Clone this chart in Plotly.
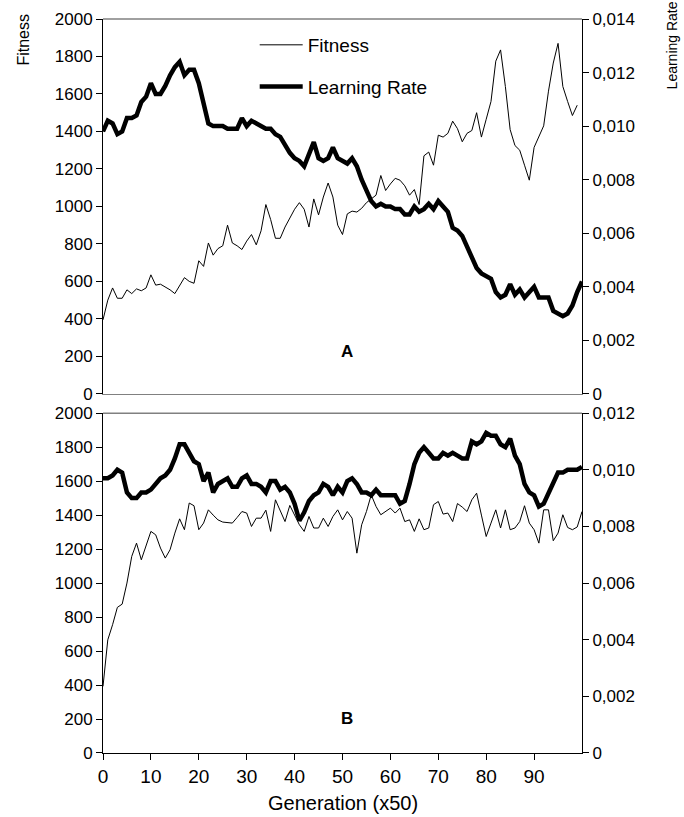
import plotly.graph_objects as go

# ---------------- data ----------------
gen_top_fit = list(range(0, 100))
gen_all = list(range(0, 101))

fitness_A = [395, 500, 565, 510, 510, 555, 535, 560, 550, 565,
             635, 580, 585, 570, 555, 535, 575, 620, 600, 590,
             710, 680, 805, 740, 775, 790, 900, 805, 790, 770,
             815, 850, 795, 870, 1010, 930, 830, 830, 890, 940,
             985, 1020, 985, 890, 1040, 955, 1050, 1125, 1050, 900,
             850, 960, 975, 970, 990, 1020, 1040, 1060, 1165, 1085,
             1120, 1150, 1140, 1110, 1060, 1090, 1010, 1270, 1290, 1220,
             1380, 1370, 1390, 1455, 1415, 1345, 1390, 1405, 1500, 1370,
             1465, 1560, 1775, 1835, 1640, 1410, 1325, 1300, 1220, 1140,
             1315, 1375, 1430, 1615, 1765, 1870, 1640, 1560, 1485, 1540]

lr_A = [0.0098, 0.0102, 0.0101, 0.0097, 0.0098, 0.0103, 0.0103, 0.0104, 0.0109, 0.0111,
        0.0116, 0.0112, 0.0112, 0.0115, 0.0119, 0.0122, 0.0124, 0.0119, 0.0121, 0.0121,
        0.0116, 0.0109, 0.0101, 0.0100, 0.0100, 0.0100, 0.0099, 0.0099, 0.0099, 0.0103,
        0.0100, 0.0102, 0.0101, 0.0100, 0.0099, 0.0099, 0.0097, 0.0096, 0.0093, 0.0090,
        0.0088, 0.0087, 0.0085, 0.0090, 0.0094, 0.0088, 0.0087, 0.0088, 0.0092, 0.0088,
        0.0087, 0.0086, 0.0088, 0.0085, 0.0080, 0.0076, 0.0072, 0.0070, 0.0071, 0.0070,
        0.0070, 0.0069, 0.0069, 0.0067, 0.0067, 0.0070, 0.0068, 0.0069, 0.0071, 0.0069,
        0.0072, 0.0070, 0.0068, 0.0062, 0.0061, 0.0059, 0.0055, 0.0050, 0.0047, 0.0045,
        0.0044, 0.0043, 0.0038, 0.0036, 0.0037, 0.0041, 0.0037, 0.0039, 0.0036, 0.0038,
        0.0040, 0.0036, 0.0036, 0.0036, 0.0031, 0.0030, 0.0029, 0.0030, 0.0033, 0.0038,
        0.0042]

fitness_B = [392, 666, 755, 857, 876, 1000, 1157, 1235, 1137, 1225,
             1304, 1284, 1206, 1147, 1196, 1294, 1378, 1314, 1471, 1455,
             1314, 1353, 1431, 1400, 1372, 1359, 1355, 1353, 1386, 1421,
             1412, 1333, 1382, 1382, 1429, 1304, 1490, 1421, 1362, 1457,
             1400, 1343, 1304, 1392, 1324, 1324, 1382, 1333, 1392, 1431,
             1372, 1421, 1382, 1176, 1343, 1421, 1519, 1451, 1402, 1421,
             1441, 1412, 1441, 1362, 1372, 1304, 1378, 1314, 1324, 1461,
             1480, 1406, 1412, 1362, 1468, 1447, 1421, 1490, 1529, 1400,
             1274, 1353, 1431, 1324, 1431, 1314, 1324, 1362, 1455, 1353,
             1314, 1235, 1431, 1431, 1249, 1294, 1402, 1327, 1314, 1330,
             1421]

lr_B = [0.0097, 0.0097, 0.0098, 0.0100, 0.0099, 0.0092, 0.0090, 0.0090, 0.0092, 0.0092,
        0.0093, 0.0095, 0.0097, 0.0098, 0.0100, 0.0104, 0.0109, 0.0109, 0.0106, 0.0103,
        0.0102, 0.0096, 0.0099, 0.0092, 0.0095, 0.0096, 0.0097, 0.0094, 0.0094, 0.0097,
        0.0098, 0.0095, 0.0095, 0.0094, 0.0092, 0.0096, 0.0096, 0.0093, 0.0094, 0.0092,
        0.0088, 0.0082, 0.0085, 0.0089, 0.0091, 0.0092, 0.0095, 0.0094, 0.0091, 0.0094,
        0.0092, 0.0096, 0.0097, 0.0095, 0.0092, 0.0092, 0.0091, 0.0093, 0.0091, 0.0091,
        0.0091, 0.0091, 0.0088, 0.0089, 0.0095, 0.0102, 0.0106, 0.0108, 0.0106, 0.0104,
        0.0104, 0.0106, 0.0105, 0.0106, 0.0105, 0.0104, 0.0104, 0.0110, 0.0109, 0.0110,
        0.0113, 0.0112, 0.0112, 0.0109, 0.0108, 0.0111, 0.0105, 0.0102, 0.0095, 0.0092,
        0.0091, 0.0087, 0.0088, 0.0092, 0.0096, 0.0099, 0.0099, 0.0100, 0.0100, 0.0100,
        0.0101]

x_ticks = [0, 10, 20, 30, 40, 50, 60, 70, 80, 90]
fit_ticks = [0, 200, 400, 600, 800, 1000, 1200, 1400, 1600, 1800, 2000]
lr_ticks_A = [0, 0.002, 0.004, 0.006, 0.008, 0.010, 0.012, 0.014]
lr_ticks_B = [0, 0.002, 0.004, 0.006, 0.008, 0.010, 0.012]


def comma(v):
    return "0" if v == 0 else f"{v:.3f}".replace(".", ",")


FONT = "Liberation Sans, Arial, sans-serif"

fig = go.Figure()
fig.add_trace(go.Scatter(x=gen_top_fit, y=fitness_A, mode="lines", name="Fitness",
                         line=dict(color="black", width=1), xaxis="x2", yaxis="y",
                         legendgroup="f"))
fig.add_trace(go.Scatter(x=gen_all, y=lr_A, mode="lines", name="Learning Rate",
                         line=dict(color="black", width=4.5), xaxis="x2", yaxis="y2",
                         legendgroup="l"))
fig.add_trace(go.Scatter(x=gen_all, y=fitness_B, mode="lines", showlegend=False,
                         line=dict(color="black", width=1), xaxis="x", yaxis="y3"))
fig.add_trace(go.Scatter(x=gen_all, y=lr_B, mode="lines", showlegend=False,
                         line=dict(color="black", width=4.5), xaxis="x", yaxis="y4"))

H_PLOT = 753.3 - 19
top_dom = [(753.3 - 394) / H_PLOT, 1]
bot_dom = [0, (753.3 - 413.3) / H_PLOT]

yfit = dict(range=[0, 2000], tickvals=fit_ticks, showline=True, linecolor="black",
            linewidth=1, ticks="outside", ticklen=6, tickcolor="black",
            showgrid=False, zeroline=False, tickfont=dict(size=17), automargin=False)

yr = dict(showline=True, linecolor="black", linewidth=1, ticks="outside",
          ticklen=6, tickcolor="black", showgrid=False, zeroline=False,
          tickfont=dict(size=17), automargin=False)

fig.update_layout(
    width=684, height=817,
    margin=dict(l=103.3, r=102.3, t=19, b=817 - 753.3),
    paper_bgcolor="white", plot_bgcolor="white",
    font=dict(family=FONT, color="black", size=17),
    xaxis=dict(domain=[0, 1], anchor="y3", range=[0, 100], tickvals=x_ticks,
               showline=True, linecolor="black", linewidth=1, ticks="outside",
               ticklen=6, tickcolor="black", showgrid=False, zeroline=False,
               tickfont=dict(size=19), automargin=False),
    xaxis2=dict(domain=[0, 1], anchor="y", range=[0, 100], matches="x",
                showline=True, linecolor="#808080", linewidth=1, ticks="",
                showticklabels=False, showgrid=False, zeroline=False, automargin=False),
    yaxis=dict(domain=top_dom, anchor="x2", **yfit),
    yaxis2=dict(overlaying="y", side="right", anchor="x2", range=[0, 0.014],
                tickvals=lr_ticks_A, ticktext=[comma(v) for v in lr_ticks_A], **yr),
    yaxis3=dict(domain=bot_dom, anchor="x", **yfit),
    yaxis4=dict(overlaying="y3", side="right", anchor="x", range=[0, 0.012],
                tickvals=lr_ticks_B, ticktext=[comma(v) for v in lr_ticks_B], **yr),
    legend=dict(x=0.3167, y=0.9905, xanchor="left", yanchor="top",
                bgcolor="rgba(0,0,0,0)", borderwidth=0, itemwidth=43,
                tracegroupgap=14, font=dict(size=19)),
    showlegend=True,
)

# gray plot-area top borders
for dom in (top_dom, bot_dom):
    fig.add_shape(type="line", xref="paper", yref="paper", x0=0, x1=1,
                  y0=dom[1], y1=dom[1], line=dict(color="#808080", width=1.5))

fig.add_annotation(text="Fitness", xref="paper", yref="paper",
                   x=-(103.3 - 24) / 478.4, y=1 + (19 - 40) / H_PLOT,
                   xanchor="center", yanchor="middle", textangle=-90, showarrow=False,
                   font=dict(size=16))
fig.add_annotation(text="Learning Rate", xref="paper", yref="paper",
                   x=1 + (672 - 581.7) / 478.4, y=1 + (19 - 45) / H_PLOT,
                   xanchor="center", yanchor="middle", textangle=-90, showarrow=False,
                   font=dict(size=14))
fig.add_annotation(text="Generation (x50)", xref="paper", yref="paper", x=0.5,
                   y=-(803 - 753.3) / H_PLOT,
                   xanchor="center", yanchor="middle", showarrow=False,
                   font=dict(size=20))
fig.add_annotation(text="<b>A</b>", xref="x2", yref="y", x=51, y=224,
                   showarrow=False, font=dict(size=17))
fig.add_annotation(text="<b>B</b>", xref="x", yref="y3", x=51, y=205,
                   showarrow=False, font=dict(size=17))

fig.write_html("out.html", post_script="document.body.style.margin='0';",
               config={"displayModeBar": False})
